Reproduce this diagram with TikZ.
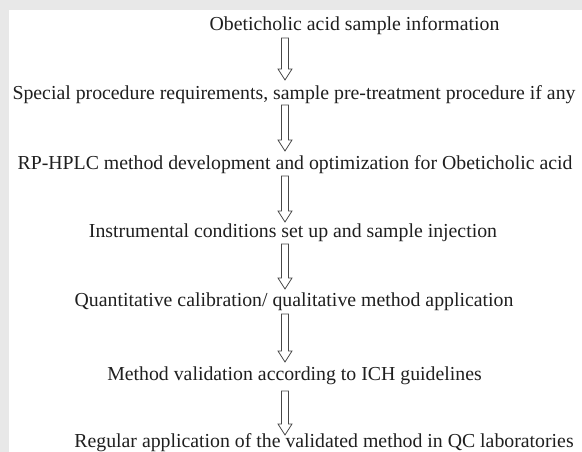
\documentclass[tikz,border=0pt]{standalone}
\usepackage{fontspec}
\setmainfont{Liberation Serif}
\usetikzlibrary{calc}
\newcommand\hollowarrow[2]{%
  \draw[hollowarr] ($(#1)+(-3.5,0)$) -- ($(#2)+(-3.5,-11)$) -- ($(#2)+(-7,-11)$) -- (#2)
    -- ($(#2)+(7,-11)$) -- ($(#2)+(3.5,-11)$) -- ($(#1)+(3.5,0)$) -- cycle;}
\begin{document}
\begin{tikzpicture}[x=1pt,y=-1pt,
  txt/.style={font=\fontsize{19.8}{22}\selectfont, inner sep=0pt, anchor=base, text=black!88},
  hollowarr/.style={draw=black!72, line width=0.8pt, fill=white, line join=miter}]
\useasboundingbox (0,0) rectangle (582,452);
\fill[black!9] (0,0) rectangle (582,452);
\fill[white] (9,10) rectangle (582,452);
\node[txt] (L1) at (354.5,31) {Obeticholic acid sample information};
\node[txt] (L2) at (294,100) {Special procedure requirements, sample pre-treatment procedure if any};
\node[txt] (L3) at (295,169) {RP-HPLC method development and optimization for Obeticholic acid};
\node[txt] (L4) at (293,237) {Instrumental conditions set up and sample injection};
\node[txt] (L5) at (294,306) {Quantitative calibration/ qualitative method application};
\node[txt] (L6) at (294.5,380) {Method validation according to ICH guidelines};
\node[txt] (L7) at (324,447) {Regular application of the validated method in QC laboratories};
\coordinate (a1t) at (285,38);  \coordinate (a1b) at (285,80);
\coordinate (a2t) at (285,105); \coordinate (a2b) at (285,151);
\coordinate (a3t) at (285,176); \coordinate (a3b) at (285,222);
\coordinate (a4t) at (285,244); \coordinate (a4b) at (285,289);
\coordinate (a5t) at (285,314); \coordinate (a5b) at (285,362);
\coordinate (a6t) at (285,391); \coordinate (a6b) at (285,435);
\hollowarrow{a1t}{a1b}
\hollowarrow{a2t}{a2b}
\hollowarrow{a3t}{a3b}
\hollowarrow{a4t}{a4b}
\hollowarrow{a5t}{a5b}
\hollowarrow{a6t}{a6b}
\end{tikzpicture}
\end{document}
